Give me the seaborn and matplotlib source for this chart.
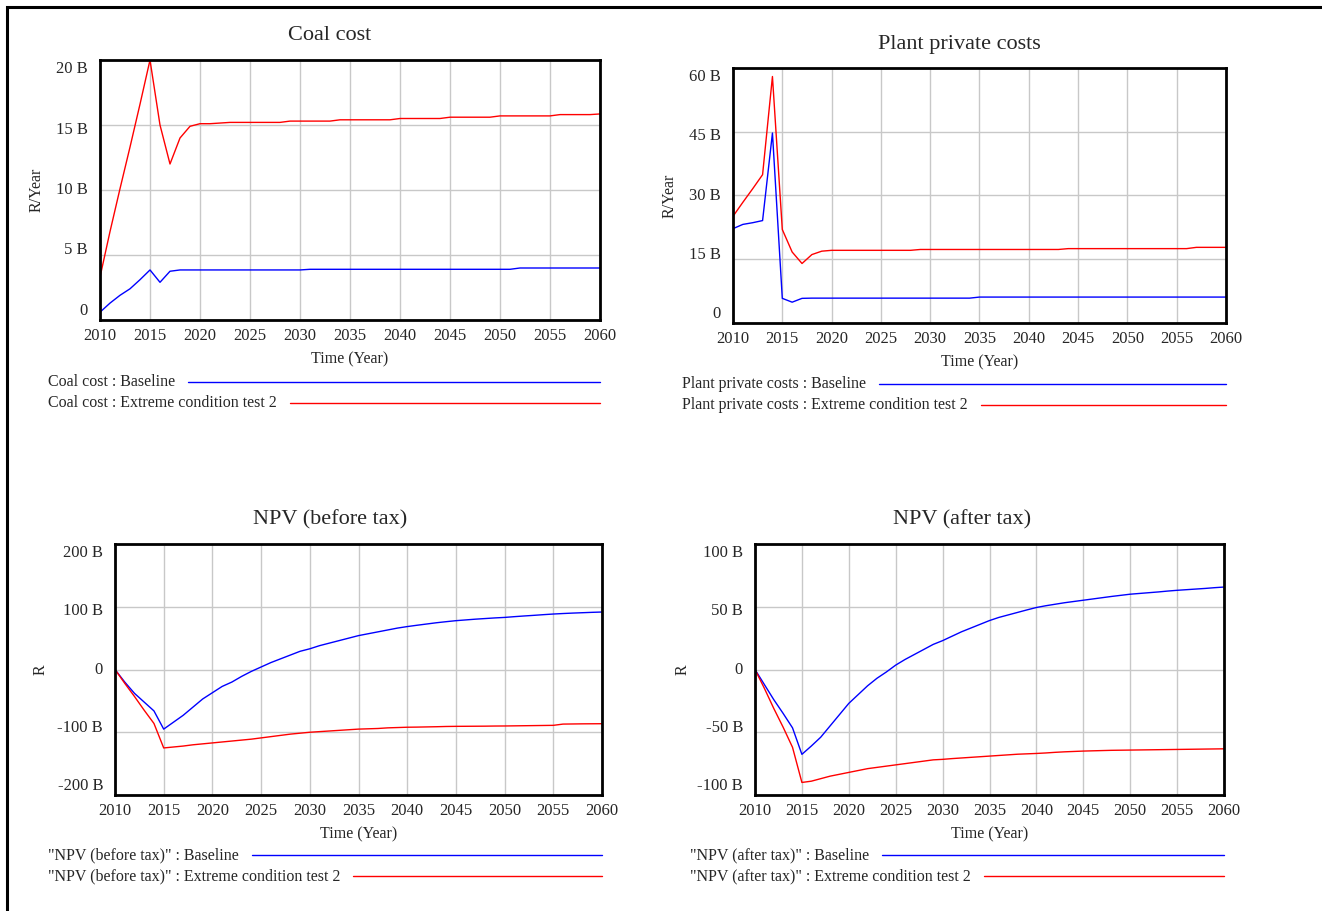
import numpy as np
import pandas as pd
import matplotlib
matplotlib.use("Agg")
import matplotlib.pyplot as plt
import matplotlib.transforms as mtransforms
from matplotlib.lines import Line2D
from matplotlib.patches import Rectangle
import seaborn as sns

# ---------------- data (values in billions of R) ----------------
years = list(range(2010, 2061))

coal_baseline = [
    0.6, 1.3, 1.9, 2.4, 3.1, 3.85, 2.9, 3.75, 3.85, 3.85,
    3.85, 3.85, 3.85, 3.85, 3.85, 3.85, 3.85, 3.85, 3.85, 3.85,
    3.85, 3.9, 3.9, 3.9, 3.9, 3.9, 3.9, 3.9, 3.9, 3.9,
    3.9, 3.9, 3.9, 3.9, 3.9, 3.9, 3.9, 3.9, 3.9, 3.9,
    3.9, 3.9, 4.0, 4.0, 4.0, 4.0, 4.0, 4.0, 4.0, 4.0, 4.0]
coal_extreme = [
    3.3, 6.8, 10.1, 13.3, 16.6, 20.0, 15.0, 12.0, 14.0, 14.9,
    15.1, 15.1, 15.15, 15.2, 15.2, 15.2, 15.2, 15.2, 15.2, 15.3,
    15.3, 15.3, 15.3, 15.3, 15.4, 15.4, 15.4, 15.4, 15.4, 15.4,
    15.5, 15.5, 15.5, 15.5, 15.5, 15.6, 15.6, 15.6, 15.6, 15.6,
    15.7, 15.7, 15.7, 15.7, 15.7, 15.7, 15.8, 15.8, 15.8, 15.8, 15.85]

plant_baseline = [
    22.2, 23.2, 23.6, 24.1, 44.7, 5.8, 4.9, 5.8, 5.85, 5.85,
    5.85, 5.85, 5.85, 5.85, 5.85, 5.85, 5.85, 5.85, 5.85, 5.85,
    5.85, 5.85, 5.85, 5.85, 5.85, 6.1, 6.1, 6.1, 6.1, 6.1,
    6.1, 6.1, 6.1, 6.1, 6.1, 6.1, 6.1, 6.1, 6.1, 6.1,
    6.1, 6.1, 6.1, 6.1, 6.1, 6.1, 6.1, 6.1, 6.1, 6.1, 6.1]
plant_extreme = [
    25.1, 28.4, 31.6, 34.9, 58.0, 22.0, 16.7, 14.0, 16.1, 16.9,
    17.1, 17.1, 17.1, 17.1, 17.1, 17.1, 17.1, 17.1, 17.1, 17.3,
    17.3, 17.3, 17.3, 17.3, 17.3, 17.3, 17.3, 17.3, 17.3, 17.3,
    17.3, 17.3, 17.3, 17.3, 17.5, 17.5, 17.5, 17.5, 17.5, 17.5,
    17.5, 17.5, 17.5, 17.5, 17.5, 17.5, 17.5, 17.8, 17.8, 17.8, 17.8]

npv_before_baseline = [
    0, -20, -38, -52, -66, -95, -84, -73, -60, -47,
    -37, -27, -20, -11, -3, 4, 11, 17, 23, 29,
    33, 38, 42, 46, 50, 54, 57, 60, 63, 66,
    68.4, 70.5, 72.5, 74.5, 76.2, 77.8, 79, 80.2, 81.2, 82.2,
    83, 84.2, 85.3, 86.3, 87.4, 88.4, 89.2, 89.9, 90.5, 91.1, 91.6]
npv_before_extreme = [
    0, -22, -43, -65, -86, -125, -123.5, -122, -120, -118.5,
    -117, -115.5, -114, -112.5, -111, -109, -107, -105, -103, -101.5,
    -100, -99, -98, -97, -96, -95, -94.5, -94, -93, -92.5,
    -92, -91.8, -91.5, -91.2, -90.8, -90.6, -90.5, -90.4, -90.3, -90.1,
    -90, -89.8, -89.6, -89.4, -89.2, -89, -87, -86.8, -86.6, -86.5, -86.4]

npv_after_baseline = [
    0, -12, -24, -35, -46.5, -67.6, -61, -54, -45, -36,
    -27, -20, -13, -7, -2, 3.5, 8, 12, 16, 20,
    23, 26.5, 30, 33, 36, 39, 41.5, 43.5, 45.5, 47.5,
    49.4, 50.8, 52, 53.2, 54.2, 55.2, 56.2, 57.2, 58.2, 59.1,
    60, 60.6, 61.2, 61.8, 62.5, 63.1, 63.6, 64.1, 64.6, 65.2, 65.7]
npv_after_extreme = [
    0, -15, -31, -46, -62, -90, -89, -87, -85, -83.5,
    -82, -80.5, -79, -78, -77, -76, -75, -74, -73, -72,
    -71.6, -71, -70.5, -70, -69.5, -69, -68.5, -68, -67.5, -67.2,
    -66.9, -66.5, -66, -65.6, -65.3, -65, -64.8, -64.6, -64.4, -64.3,
    -64.2, -64.1, -64, -63.9, -63.8, -63.7, -63.6, -63.5, -63.4, -63.3, -63.2]

scenarios = ["Baseline", "Extreme condition test 2"]
titles = ["Coal cost", "Plant private costs", "NPV (before tax)", "NPV (after tax)"]
var_names = ["Coal cost", "Plant private costs", '"NPV (before tax)"', '"NPV (after tax)"']
y_units = ["R/Year", "R/Year", "R", "R"]
x_ticks = list(range(2010, 2061, 5))
y_ticks = [[0, 5, 10, 15, 20], [0, 15, 30, 45, 60],
           [-200, -100, 0, 100, 200], [-100, -50, 0, 50, 100]]
y_tick_labels = [["0", "5 B", "10 B", "15 B", "20 B"],
                 ["0", "15 B", "30 B", "45 B", "60 B"],
                 ["-200 B", "-100 B", "0", "100 B", "200 B"],
                 ["-100 B", "-50 B", "0", "50 B", "100 B"]]
series = [(coal_baseline, coal_extreme), (plant_baseline, plant_extreme),
          (npv_before_baseline, npv_before_extreme), (npv_after_baseline, npv_after_extreme)]

# ---------------- style ----------------
sns.set_style("white")
FONT = ["Liberation Serif", "DejaVu Serif"]
plt.rcParams["font.family"] = FONT
palette = {"Baseline": "#0000ff", "Extreme condition test 2": "#ff0000"}

W, H = 1322, 911
fig = plt.figure(figsize=(W / 100, H / 100), dpi=100)

# axes rectangles in pixels: left, top, right, bottom
rects = [(100, 60, 600, 320), (733, 68, 1226, 323),
         (115, 544, 602, 795), (755, 544, 1224, 795)]
title_x = [330, 959, 330, 962]
title_y = [36, 45, 520, 520]
ylabel_x = [37, 670, 41, 683]
legend_y = [(382, 403), (384, 405), (855, 876), (855, 876)]
legend_x = [48, 682, 48, 690]

# outer border
fig.add_artist(Rectangle((7 / W, -0.1), 1.2, 1.1 - 7 / H, transform=fig.transFigure,
                         fill=False, edgecolor="black", linewidth=2.2, clip_on=False))

axes = []
for i in range(4):
    l, t, r, b = rects[i]
    ax = fig.add_axes([l / W, 1 - b / H, (r - l) / W, (b - t) / H])
    axes.append(ax)
    df = pd.DataFrame({
        "Year": years * 2,
        "Value": list(series[i][0]) + list(series[i][1]),
        "Scenario": [scenarios[0]] * len(years) + [scenarios[1]] * len(years),
    })
    sns.lineplot(data=df, x="Year", y="Value", hue="Scenario", palette=palette,
                 hue_order=scenarios, linewidth=1.0, legend=False, ax=ax)
    ax.set_xlim(2010, 2060)
    ax.set_ylim(y_ticks[i][0], y_ticks[i][-1])
    ax.set_xticks(x_ticks)
    ax.set_xticklabels([str(v) for v in x_ticks], fontsize=12)
    ax.set_yticks(y_ticks[i])
    ax.set_yticklabels([])
    ax.tick_params(axis="both", length=0)
    ax.tick_params(axis="x", pad=6)
    ax.grid(True, color="#c8c8c8", linewidth=1.0)
    ax.set_axisbelow(True)
    for s in ax.spines.values():
        s.set_visible(True)
        s.set_color("black")
        s.set_linewidth(2.0)
    ax.set_xlabel("Time (Year)", fontsize=11.5, labelpad=5)
    ax.set_ylabel(y_units[i], fontsize=11.5, va="center")
    ax.yaxis.set_label_coords((ylabel_x[i] - l) / (r - l), 0.5)

    # y tick labels, slightly drawn toward the centre as in the original
    off = mtransforms.ScaledTranslation(-12 / 100, 0, fig.dpi_scale_trans)
    y0, y1 = ax.get_ylim()
    for tv, lab in zip(y_ticks[i], y_tick_labels[i]):
        f = (tv - y0) / (y1 - y0)
        fy = 0.5 + (f - 0.5) * 0.927
        ax.text(0, fy, lab, transform=ax.transAxes + off, ha="right", va="center",
                fontsize=12)

    fig.text(title_x[i] / W, 1 - title_y[i] / H, titles[i], ha="center", va="center",
             fontsize=16)

# legends: text followed by a sample line running to the right edge of the axes
renderer = fig.canvas.get_renderer()
for i in range(4):
    ax = axes[i]
    x_end = ax.get_position().x1
    for k, sc in enumerate(scenarios):
        yy = 1 - legend_y[i][k] / H
        t = fig.text(legend_x[i] / W, yy, f"{var_names[i]} : {sc}", ha="left", va="center",
                     fontsize=11.5)
        bb = t.get_window_extent(renderer)
        x_start = (bb.x1 + 13) / W
        fig.add_artist(Line2D([x_start, x_end], [yy, yy], transform=fig.transFigure,
                              color=palette[sc], linewidth=1.0))

fig.savefig("out.png", dpi=100)
